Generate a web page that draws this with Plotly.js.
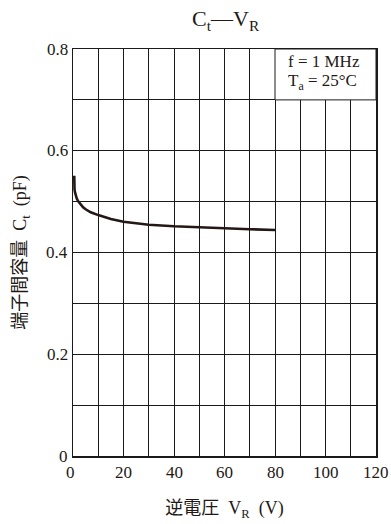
<!DOCTYPE html>
<html><head><meta charset="utf-8">
<script src="https://cdn.plot.ly/plotly-3.0.1.min.js"></script>
<style>html,body{margin:0;padding:0;background:#fff}#c{width:391px;height:524px}</style>
</head><body><div id="c"></div>
<script>
const vr = [0.5, 0.5, 0.6, 0.8, 1, 1.5, 2, 3, 4, 5, 7, 10, 15, 20, 25, 30, 40, 50, 60, 70, 80];
const ct = [0.551, 0.532, 0.524, 0.518, 0.513, 0.506, 0.501, 0.494, 0.489, 0.485, 0.479, 0.4735, 0.466, 0.4605, 0.457, 0.4545, 0.4515, 0.4493, 0.4474, 0.4458, 0.4443];
const xTicks = [0, 20, 40, 60, 80, 100, 120];
const xTickText = ['0', '20', '40', '60', '80', '100', '120'];
const yTicks = [0, 0.2, 0.4, 0.6, 0.8];
const yTickText = ['0', '0.2', '0.4', '0.6', '0.8'];
const noteLines = ['f = 1 MHz', 'T<sub>a</sub> = 25°C'];

const serif = 'Liberation Serif, Noto Sans CJK JP';
const ink = '#231815';
const grid = '#1a1a1a';

const tickAnns = [];
xTicks.forEach((v, i) => tickAnns.push({
  xref: 'x', yref: 'paper', x: v, y: 0, xanchor: 'center', yanchor: 'top', yshift: -5,
  xshift: v === 0 ? -3 : 0,
  showarrow: false, text: xTickText[i], font: {family: serif, size: 17, color: ink}
}));
yTicks.forEach((v, i) => tickAnns.push({
  xref: 'paper', yref: 'y', x: 0, y: v, xanchor: 'right', yanchor: 'middle', xshift: -3,
  showarrow: false, text: yTickText[i], font: {family: serif, size: 17, color: ink}
}));

Plotly.newPlot('c', [{
  x: vr, y: ct, mode: 'lines', type: 'scatter',
  line: {color: ink, width: 2.6, shape: 'linear'},
  hoverinfo: 'skip', showlegend: false
}], {
  width: 391, height: 524,
  margin: {l: 73, r: 15, t: 49, b: 68},
  paper_bgcolor: '#fff', plot_bgcolor: '#fff',
  font: {family: serif, color: ink, size: 17},
  title: {text: 'C<sub>t</sub>—V<sub>R</sub>', x: 0.577, xanchor: 'center', y: 0.965, yanchor: 'middle',
          font: {family: serif, size: 22, color: ink}},
  xaxis: {range: [0, 120], tick0: 0, dtick: 10, showticklabels: false,
          showgrid: true, gridcolor: grid, gridwidth: 1,
          showline: true, linecolor: grid, linewidth: 1.5, mirror: true,
          ticks: '', zeroline: false, fixedrange: true,
          title: {text: '逆電圧  V<sub>R</sub>  (V)', standoff: 45,
                  font: {family: serif, size: 18, color: ink}}},
  yaxis: {range: [0, 0.8], tick0: 0, dtick: 0.1, showticklabels: false,
          showgrid: true, gridcolor: grid, gridwidth: 1,
          showline: true, linecolor: grid, linewidth: 1.5, mirror: true,
          ticks: '', zeroline: false, fixedrange: true,
          title: {text: '端子間容量  C<sub>t</sub>  (pF)', standoff: 40,
                  font: {family: serif, size: 18, color: ink}}},
  shapes: [{type: 'rect', xref: 'x', yref: 'y', x0: 80, x1: 120, y0: 0.7, y1: 0.8,
            fillcolor: '#fff', line: {color: grid, width: 1}, layer: 'above'}],
  annotations: tickAnns.concat([
    {xref: 'x', yref: 'y', x: 84.3, y: 0.775, xanchor: 'left', yanchor: 'middle', showarrow: false,
     text: noteLines[0], font: {family: serif, size: 17, color: ink}},
    {xref: 'x', yref: 'y', x: 84.3, y: 0.735, xanchor: 'left', yanchor: 'middle', showarrow: false,
     text: noteLines[1], font: {family: serif, size: 17, color: ink}}
  ])
}, {staticPlot: true, displayModeBar: false});
</script></body></html>
